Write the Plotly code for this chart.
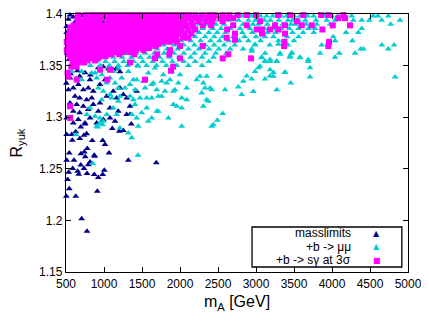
import plotly.graph_objects as go

# ---------------- data ----------------
# masslimits (dark blue triangles)
masslimits_pts = [
    (553,1.399),(596,1.397),(530,1.395),(618,1.392),(509,1.388),(509,1.382),(707,1.398),(991,1.3916),
    (859,1.380),(772,1.374),(882,1.372),(680,1.3657),(1342,1.389),(520,1.372),(515,1.362),(540,1.356),
    (925,1.348),(990,1.349),(1060,1.347),(1120,1.346),(1160,1.347),(600,1.35),(650,1.345),(560,1.342),
    (750,1.343),(820,1.341),(1210,1.344),
    (505,1.333),(530,1.3267),(596,1.3284),(662,1.3316),(728,1.3267),(793,1.3284),(859,1.3251),(618,1.3202),
    (680,1.3187),(772,1.317),(838,1.3187),(553,1.3138),(641,1.3122),(728,1.3106),(859,1.3122),(947,1.3138),
    (596,1.3057),(680,1.3042),(793,1.3074),(925,1.3057),(1079,1.309),(509,1.2993),(662,1.2977),(816,1.2993),
    (991,1.2977),(1145,1.296),(596,1.2945),(750,1.2945),(904,1.2945),(1079,1.2993),(553,1.338),(680,1.3396),
    (816,1.3364),(947,1.3316),(1013,1.3364),(1122,1.3251),(1167,1.3187),(1036,1.3202),
    (1210,1.3284),(1254,1.322),(1430,1.3251),(1299,1.3187),(1342,1.3106),(1188,1.3057),(1299,1.3025),(1342,1.3025),
    (509,1.2832),(575,1.2832),(628,1.2858),(682,1.2793),(583,1.2777),(737,1.2826),(772,1.284),(694,1.2906),
    (750,1.2935),(846,1.2774),(983,1.2774),(1013,1.2735),(1109,1.289),(1201,1.2864),(1254,1.287),(1359,1.2935),
    (780,1.2696),(697,1.2645),(872,1.2631),
    (543,1.2654),(509,1.2583),(605,1.2583),(535,1.2467),(588,1.2502),(654,1.2476),(694,1.2538),(737,1.2502),
    (667,1.2447),(776,1.2454),(794,1.254),(878,1.2622),(754,1.2616),(741,1.2664),(816,1.2567),(872,1.2444),
    (925,1.2415),(983,1.2444),(1004,1.2486),(522,1.2396),(543,1.2306),(504,1.2234),(628,1.2234),(912,1.2283),
    (706,1.2015),(776,1.1896),(1066,1.2654),(1320,1.2583),(1688,1.2558),
]

# +b -> mu mu (cyan triangles): dense upper band, rows of (R_yuk, [m_A ...])
mumu_rows = [
    (1.398, [2100,2230,2330,2480,2590,2730,2820,2940,3060,3140,3220,3330,3400,3500,3580,3680,3760,3900,4000,4080,4260,4544,4606,4741]),
    (1.394, [2050,2180,2290,2400,2520,2640,2770,2900,2990,3110,3190,3300,3420,3480,3560,3650,3790,3930,4040,4281,4391,4491,4655,4895]),
    (1.390, [1950,2120,2250,2360,2470,2580,2700,2830,2960,3030,3150,3250,3350,3460,3520,3660,3800,3974,4773]),
    (1.386, [1900,2040,2170,2300,2430,2540,2660,2790,2920,3110,3230,3330,3440,3560,3690,3780,4391]),
    (1.382, [1860,1990,2120,2250,2380,2490,2600,2820,2950,3150,3260,3480,3620,3760,4185,4347]),
    (1.378, [1800,1940,2070,2200,2330,2450,2560,2700,2850,3000,3120,3230,3410,3560,4017]),
    (1.374, [1740,1880,2010,2140,2270,2400,2520,2640,2780,2900,3060,3294,3500,4040,4268]),
    (1.370, [1650,1780,1920,2050,2190,2330,2450,2580,2720,2987,3180,3420,3865,4655,4817]),
    (1.366, [1560,1700,1830,1970,2110,2250,2380,2510,2660,2830,2944,4378,4412,4741]),
    (1.362, [1300,1420,1540,1660,1790,1920,2050,2190,2330,2470,2610,3119,3316,3470,3843,4097,4303]),
    (1.358, [1000,1120,1240,1360,1480,1600,1730,1860,1990,2140,2290,2440,3075,3448,3579,4040]),
    (1.354, [900,1020,1140,1260,1390,1510,1640,1770,1900,2050,2200,2380,3119,3185,3273,3688]),
    (1.350, [820,950,1070,1190,1310,1440,1560,1690,1820,1960,2110,2290]),
]
# +b -> mu mu, scattered points below the band
mumu_pts = [
    (575,1.3444),(641,1.338),(707,1.3444),(838,1.3429),(904,1.338),(970,1.3412),(1079,1.338),(1122,1.3444),
    (1036,1.3332),(1145,1.3332),(925,1.3284),(991,1.3251),(1101,1.3187),(1188,1.3154),(970,1.317),(1122,1.309),
    (816,1.309),(882,1.3009),(1036,1.3025),(947,1.2945),(1167,1.3025),(772,1.3025),
    (632,1.283),(917,1.2906),(983,1.2928),(991,1.296),(1320,1.2848),(1365,1.28),(1447,1.2631),(851,1.2551),
    (1188,1.3477),(1320,1.3444),(1451,1.3493),(1583,1.3429),(1671,1.3477),(1781,1.3412),(1891,1.3444),(2000,1.3412),
    (1233,1.338),(1386,1.3364),(1517,1.3348),(1649,1.3332),(1759,1.3348),(1869,1.3364),(1978,1.3332),
    (1276,1.3284),(1408,1.3267),(1540,1.3284),(1694,1.3267),(1803,1.3251),(1934,1.3267),
    (1210,1.3202),(1342,1.3202),(1474,1.3187),(1628,1.3187),(1759,1.3202),(2023,1.3187),
    (1408,1.3122),(1912,1.3122),(1562,1.309),(1715,1.3057),(2023,1.309),(1365,1.3025),(1496,1.3042),(1628,1.2993),(1430,1.2993),
    (707,1.3364),(882,1.3429),(1079,1.3219),(1188,1.3284),(1342,1.3316),(1430,1.3364),(1386,1.317),(1628,1.3316),
    (1825,1.3332),(1912,1.3251),(2088,1.3284),(2220,1.3364),(2352,1.3396),(2417,1.3267),(2088,1.317),(2307,1.3106),
    (1957,1.3106),(1451,1.2912),(1583,1.296),(2023,1.2912),(904,1.2912),(947,1.2993),(1210,1.2896),
    (1694,1.3057),(1847,1.2993),(1562,1.3187),(1715,1.3202),
    (2527,1.3396),(2263,1.3396),(2329,1.3284),(2395,1.3284),(2592,1.3267),(2767,1.3293),(2812,1.322),(2965,1.325),
    (2833,1.3348),(2944,1.3371),(2987,1.3444),(3119,1.337),(3229,1.3396),(3273,1.3267),(3382,1.3435),(3457,1.3332),
    (3711,1.339),(3053,1.3493),(3185,1.346),(2350,1.317),(2373,1.3154),(2307,1.3332),(2285,1.3235),
    (2417,1.2912),(2438,1.2928),(2491,1.297),(2562,1.3035),
    (2878,1.34),(3185,1.34),(3229,1.3432),(3382,1.3432),(3031,1.348),(3711,1.348),(4830,1.339),
    (2944,1.364),(2987,1.3706),(3075,1.3577),(3119,1.3545),(3185,1.356),(3273,1.3545),(3448,1.3593),(3579,1.3577),
    (3688,1.356),(3470,1.3625),(3316,1.361),(3294,1.3706),
]

# +b -> s gamma at 3 sigma (magenta squares): dense top band rows
sgamma_rows = [
    (1.399, [660,760,840,900,960,1020,1080,1140,1200,1260,1320,1380,1440,1500,1560,1620,1680,1740,1800,1880,1960,2040,2120,2200,2290,2380,2460,2560,2650,2760,2880,3000,3290,3448,3623,3856,3952,4150]),
    (1.396, [650,760,820,880,940,1000,1060,1120,1180,1240,1300,1360,1420,1480,1540,1600,1660,1720,1790,1860,1930,2010,2100,2180,2260,2350,2440,2530,2620,2700,4084,4172]),
    (1.393, [660,720,780,840,900,930,1050,1110,1170,1230,1290,1350,1410,1470,1530,1590,1650,1720,1800,1870,1950,2030,2150,2250,2340,2420,2560,3053,3536]),
    (1.391, [700,770,850,920,1080,1160,1240,1310,1390,1470,1550,1630,1710,1790,1880,1970,2060]),
    (1.389, [600,660,720,780,840,900,960,1020,1080,1140,1200,1260,1440,1500,1560,1630,1700,1760,1840,1910,1990,2080,2170,2300,2410,2700,2878,3251,3382,3601,3733,4010,4237]),
    (1.387, [560,620,690,760,830,900,970,1040,1110,1190,1270,1350,1430,1510,1590,1680,1760,1850,1950]),
    (1.385, [580,640,700,760,820,880,940,1000,1060,1120,1180,1240,1300,1360,1420,1480,1550,1620,1690,1770,1850,1930,2020,2110,2200,2620,3009,3075,3185,3294,3873]),
    (1.383, [550,610,680,750,830,900,970,1050,1130,1210,1290,1370,1450,1530,1620,1710,1800,1900]),
    (1.381, [570,630,690,750,810,870,930,990,1050,1110,1170,1230,1290,1350,1410,1470,1540,1610,1680,1760,1830,1900,1980,2060,2150,2724,3079,3382]),
    (1.379, [530,590,660,730,800,870,940,1010,1090,1170,1250,1330,1410,1490,1570,1660,1750,1840,1930]),
    (1.377, [540,600,660,720,780,840,900,960,1020,1080,1140,1200,1260,1320,1380,1440,1510,1580,1650,1730,1800,1870,1950,2040,2110,2615]),
    (1.375, [560,630,700,770,840,910,980,1060,1140,1220,1300,1380,1460,1540,1620,1710,1800,1890,2724]),
    (1.373, [510,570,630,690,750,810,870,930,990,1050,1110,1170,1230,1290,1350,1420,1490,1560,1630,1700,1780,1860,1960,3373,3961]),
    (1.371, [540,610,680,750,820,890,960,1040,1120,1200,1280,1360,1440,1530,1620,1710]),
    (1.369, [530,590,650,710,770,830,890,950,1010,1070,1130,1190,1250,1310,1380,1450,1520,1600,1680,2000,2299,3369,3952]),
    (1.367, [560,630,700,780,860,940,1020,1100,1180,1260,1340,1420,1500,1590]),
    (1.365, [510,570,630,690,750,810,870,930,990,1050,1110,1180,1250,1330,1420,1520,1870]),
    (1.363, [540,610,680,760,840,920,1000,1080,1160,1250,1340]),
    (1.361, [530,590,650,710,770,830,890,960,1030,1100,1200,1400,1700,1860,2636]),
    (1.359, [560,630,700,780,860,940,1020]),
    (1.357, [570,630,690,760,840,920,1671,2000,2562,2935]),
    (1.355, [600,680,780,880]),
    (1.353, [590,660,740,1342]),
    (1.349, [570,640,1910]),
]
# +b -> s gamma, scattered points below the band
sgamma_pts = [
    (947,1.346),(1079,1.346),(1882,1.345),(530,1.3396),(641,1.3364),(1044,1.3364),(1540,1.3364),
    (520,1.343),(553,1.3106),(553,1.2993),
]

# axes ticks
x_ticks = [500,1000,1500,2000,2500,3000,3500,4000,4500,5000]
y_ticks = [1.15,1.2,1.25,1.3,1.35,1.4]
y_tick_labels = ["1.15","1.2","1.25","1.3","1.35","1.4"]
series_names = ["masslimits", "+b -> μμ", "+b -> sγ at 3σ"]
series_colors = ["#00008b", "#00ced1", "#ff00ff"]

# ---------------- build arrays ----------------
ml_x = [p[0] for p in masslimits_pts]
ml_y = [p[1] for p in masslimits_pts]
mm_x = [x for y, xs in mumu_rows for x in xs] + [p[0] for p in mumu_pts]
mm_y = [y for y, xs in mumu_rows for x in xs] + [p[1] for p in mumu_pts]
sg_x = [x for y, xs in sgamma_rows for x in xs] + [p[0] for p in sgamma_pts]
sg_y = [y for y, xs in sgamma_rows for x in xs] + [p[1] for p in sgamma_pts]

FONT = "Liberation Sans, Arial, sans-serif"

fig = go.Figure()
fig.add_trace(go.Scatter(x=ml_x, y=ml_y, mode="markers", name=series_names[0], cliponaxis=False,
                         marker=dict(symbol="triangle-up", size=6, color=series_colors[0], line=dict(width=0))))
fig.add_trace(go.Scatter(x=mm_x, y=mm_y, mode="markers", name=series_names[1], cliponaxis=False,
                         marker=dict(symbol="triangle-up", size=6, color=series_colors[1], line=dict(width=0))))
fig.add_trace(go.Scatter(x=sg_x, y=sg_y, mode="markers", name=series_names[2], cliponaxis=False,
                         marker=dict(symbol="square", size=6, color=series_colors[2], line=dict(width=0))))

axis_common = dict(showgrid=False, zeroline=False, showline=True, linecolor="black", linewidth=1.3,
                   mirror="ticks", ticks="inside", ticklen=5, tickwidth=1, tickcolor="black",
                   automargin=False, ticklabeloverflow="allow",
                   tickfont=dict(family=FONT, size=12, color="black"))

fig.update_xaxes(range=[500, 5000], tickvals=x_ticks, ticktext=[str(v) for v in x_ticks],
                 title=dict(text="m<sub>A</sub> [GeV]", font=dict(family=FONT, size=16, color="black"), standoff=6),
                 **axis_common)
fig.update_yaxes(range=[1.15, 1.4], tickvals=y_ticks, ticktext=y_tick_labels,
                 title=dict(text="R<sub>yuk</sub>", font=dict(family=FONT, size=16, color="black"), standoff=14),
                 **axis_common)

# gnuplot-style key (text right-aligned, sample symbol on the right)
fig.add_shape(type="rect", xref="paper", yref="paper", x0=0.544, x1=0.982, y0=0.0194, y1=0.1744,
              line=dict(color="black", width=1.3), fillcolor="white", layer="above")
key_y = [0.150, 0.097, 0.046]
key_sym = ["▲", "▲", "■"]
for name, col, ky, sym in zip(series_names, series_colors, key_y, key_sym):
    fig.add_annotation(xref="paper", yref="paper", x=0.838, y=ky, text=name, showarrow=False,
                       xanchor="right", yanchor="middle", font=dict(family=FONT, size=12, color="black"))
    fig.add_annotation(xref="paper", yref="paper", x=0.909, y=ky, text=sym, showarrow=False,
                       xanchor="center", yanchor="middle", font=dict(family="DejaVu Sans", size=8, color=col))

# the page body has an 8px margin, so the figure is offset by 8px inside the 429x323 window
fig.update_layout(width=421, height=315, showlegend=False,
                  margin=dict(l=58, r=21, t=6, b=51),
                  plot_bgcolor="white", paper_bgcolor="white")

fig.write_html("out.html")
